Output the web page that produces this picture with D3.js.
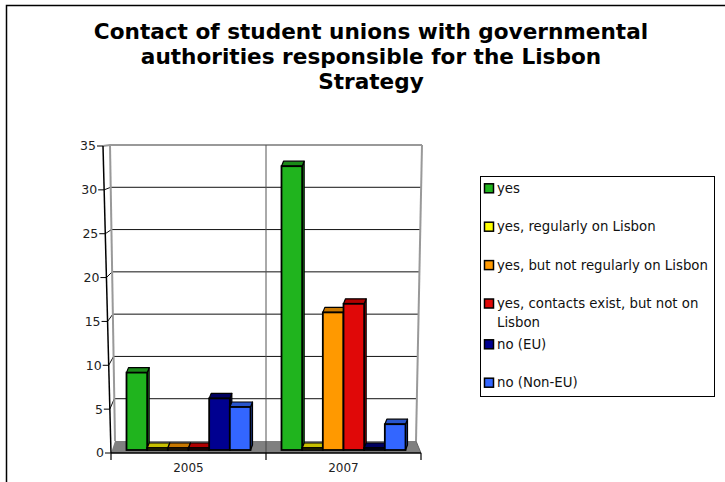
<!DOCTYPE html>
<html>
<head>
<meta charset="utf-8">
<script src="https://cdn.jsdelivr.net/npm/d3@7"></script>
<style>
  body { margin: 0; background: #fff; }
  svg { display: block; }
</style>
</head>
<body>
<svg id="chart" width="725" height="482"></svg>
<script>
// data
var categories = ["2005", "2007"];
var series = ["yes", "yes, regularly on Lisbon", "yes, but not regularly on Lisbon",
              "yes, contacts exist, but not on Lisbon", "no (EU)", "no (Non-EU)"];
var values2005 = [9, 0, 0, 0, 6, 5];
var values2007 = [33, 0, 16, 17, 0, 3];
var yTicks = [0, 5, 10, 15, 20, 25, 30, 35];
var titleLines = ["Contact of student unions with governmental",
                  "authorities responsible for the Lisbon", "Strategy"];

var colors = ["#20b41e", "#ffff00", "#ff9900", "#e00808", "#000090", "#3366ff"];
var topColors = ["#1a8a18", "#c8c000", "#c87800", "#b00000", "#000060", "#2855cc"];

var table = categories.map(function (c, ci) {
    var vals = ci === 0 ? values2005 : values2007;
    return { cat: c, values: vals };
});

var svg = d3.select("#chart");

// outer frame (only top and left visible)
svg.append("rect")
    .attr("x", 6.5).attr("y", 5.5)
    .attr("width", 900).attr("height", 700)
    .attr("fill", "none").attr("stroke", "#000").attr("stroke-width", 1.5);

// title
svg.append("g").selectAll("text")
    .data(titleLines)
    .enter().append("text")
    .attr("x", 371)
    .attr("y", function (d, i) { return 39 + i * 25; })
    .attr("text-anchor", "middle")
    .attr("font-family", "DejaVu Sans, Verdana, sans-serif")
    .attr("font-weight", "bold")
    .attr("font-size", 21.6)
    .text(function (d) { return d; });

// 3d-ish scales
var yFront = d3.scaleLinear().domain([0, 35]).range([453, 146]);
var yBack = d3.scaleLinear().domain([0, 35]).range([441, 145]);
var xFront = d3.scaleLinear().domain([0, 35]).range([111, 103]);
var xBackL = d3.scaleLinear().domain([0, 35]).range([115, 110]);
var xBackR = d3.scaleLinear().domain([0, 35]).range([416, 422]);
var yBar = d3.scaleLinear().domain([0, 35]).range([450, 149]);

var xCat = d3.scaleBand().domain(categories).range([111, 421]);
var xSer = d3.scaleBand().domain(series).range([0, xCat.bandwidth()])
    .paddingInner(0).paddingOuter(0.75);

var plot = svg.append("g");

// floor
plot.append("polygon")
    .attr("points", [[xBackL(0), yBack(0)], [xBackR(0), yBack(0)],
                     [421, yFront(0)], [xFront(0), yFront(0)]].join(" "))
    .attr("fill", "#808080");

// gridlines: left wall + back wall
yTicks.forEach(function (t) {
    if (t === 0) return;
    plot.append("polyline")
        .attr("points", [[xFront(t), yFront(t)], [xBackL(t), yBack(t)], [xBackR(t), yBack(t)]].join(" "))
        .attr("fill", "none")
        .attr("stroke", t === 35 ? "#999" : "#111")
        .attr("stroke-width", t === 35 ? 2 : 1);
});

// wall edges
plot.append("line")
    .attr("x1", xBackL(0)).attr("y1", yBack(0)).attr("x2", xBackL(35)).attr("y2", yBack(35))
    .attr("stroke", "#999").attr("stroke-width", 2);
plot.append("line")
    .attr("x1", xBackR(0)).attr("y1", yBack(0)).attr("x2", xBackR(35)).attr("y2", yBack(35))
    .attr("stroke", "#999").attr("stroke-width", 2);
plot.append("line")
    .attr("x1", xBackR(0)).attr("y1", yBack(0)).attr("x2", 421).attr("y2", yFront(0))
    .attr("stroke", "#666").attr("stroke-width", 1);

// category divider on back wall and floor
var divX = xCat(categories[1]);
plot.append("line")
    .attr("x1", divX).attr("y1", yBack(35)).attr("x2", divX).attr("y2", yBack(0))
    .attr("stroke", "#555").attr("stroke-width", 1);
plot.append("line")
    .attr("x1", divX).attr("y1", yBack(0)).attr("x2", divX).attr("y2", yFront(0))
    .attr("stroke", "#444").attr("stroke-width", 1);

// front value axis
plot.append("line")
    .attr("x1", xFront(0)).attr("y1", yFront(0)).attr("x2", xFront(35)).attr("y2", yFront(35))
    .attr("stroke", "#000").attr("stroke-width", 1.5);
var yAxis = plot.append("g").selectAll("g")
    .data(yTicks).enter().append("g");
yAxis.append("line")
    .attr("x1", function (d) { return xFront(d) - 6; })
    .attr("x2", function (d) { return xFront(d); })
    .attr("y1", function (d) { return yFront(d); })
    .attr("y2", function (d) { return yFront(d); })
    .attr("stroke", "#000");
yAxis.append("text")
    .attr("x", function (d) { return xFront(d) - 7; })
    .attr("y", function (d) { return yFront(d); })
    .attr("dy", "0.35em")
    .attr("text-anchor", "end")
    .attr("font-family", "DejaVu Sans, Verdana, sans-serif")
    .attr("font-size", 12.5)
    .attr("fill", "#222")
    .text(function (d) { return d; });

// bars
var dx = 2, dy = -5, base = yBar(0);
table.forEach(function (row) {
    var g = plot.append("g");
    row.values.forEach(function (v, i) {
        var x0 = xCat(row.cat) + xSer(series[i]);
        var w = xSer.bandwidth();
        var top = v === 0 ? base - 2 : yBar(v);
        g.append("polygon")
            .attr("points", [[x0 + w, top], [x0 + w + dx, top + dy], [x0 + w + dx, base + dy], [x0 + w, base]].join(" "))
            .attr("fill", topColors[i]).attr("stroke", "#000").attr("stroke-width", 1.2)
            .attr("stroke-linejoin", "round");
        g.append("polygon")
            .attr("points", [[x0, top], [x0 + dx, top + dy], [x0 + w + dx, top + dy], [x0 + w, top]].join(" "))
            .attr("fill", topColors[i]).attr("stroke", "#000").attr("stroke-width", 1.2)
            .attr("stroke-linejoin", "round");
        g.append("rect")
            .attr("x", x0).attr("y", top)
            .attr("width", w).attr("height", base - top)
            .attr("fill", colors[i]).attr("stroke", "#000").attr("stroke-width", 1.8);
    });
});

// category axis
plot.append("line")
    .attr("x1", xFront(0)).attr("y1", yFront(0)).attr("x2", 421).attr("y2", yFront(0))
    .attr("stroke", "#000").attr("stroke-width", 1.5);
var catTicks = categories.map(function (c) { return xCat(c); }).concat([xCat.range()[1]]);
plot.selectAll(".ctick").data(catTicks).enter().append("line")
    .attr("x1", function (d) { return d; }).attr("x2", function (d) { return d; })
    .attr("y1", yFront(0)).attr("y2", yFront(0) + 7)
    .attr("stroke", "#000").attr("stroke-width", 1.2);
plot.selectAll(".clabel").data(categories).enter().append("text")
    .attr("x", function (d) { return xCat(d) + xCat.bandwidth() / 2; })
    .attr("y", 472)
    .attr("text-anchor", "middle")
    .attr("font-family", "DejaVu Sans, Verdana, sans-serif")
    .attr("font-size", 12)
    .attr("fill", "#222")
    .text(function (d) { return d; });

// legend
var legend = svg.append("g");
legend.append("rect")
    .attr("x", 480.5).attr("y", 176.5).attr("width", 234).attr("height", 220)
    .attr("fill", "#fff").attr("stroke", "#000").attr("stroke-width", 1);

var yCursor = 188.3;
series.forEach(function (s, i) {
    var item = legend.append("g");
    item.append("rect")
        .attr("x", 484.5).attr("y", yCursor - 4.5).attr("width", 9).attr("height", 9)
        .attr("fill", colors[i]).attr("stroke", "#000").attr("stroke-width", 1.5);
    var text = item.append("text")
        .attr("x", 497).attr("y", yCursor)
        .attr("dy", "0.35em")
        .attr("font-family", "DejaVu Sans, Verdana, sans-serif")
        .attr("font-size", 13.3)
        .attr("fill", "#111");
    // simple word wrap
    var words = s.split(" "), line = [], lines = 1;
    var tspan = text.append("tspan").attr("x", 497);
    words.forEach(function (w) {
        line.push(w);
        tspan.text(line.join(" "));
        if (tspan.node().getComputedTextLength() > 215 && line.length > 1) {
            line.pop();
            tspan.text(line.join(" "));
            line = [w];
            tspan = text.append("tspan").attr("x", 497).attr("dy", "1.38em").text(w);
            lines++;
        }
    });
    yCursor += 38.4 + (lines - 1) * 2.4;
});
</script>
</body>
</html>
